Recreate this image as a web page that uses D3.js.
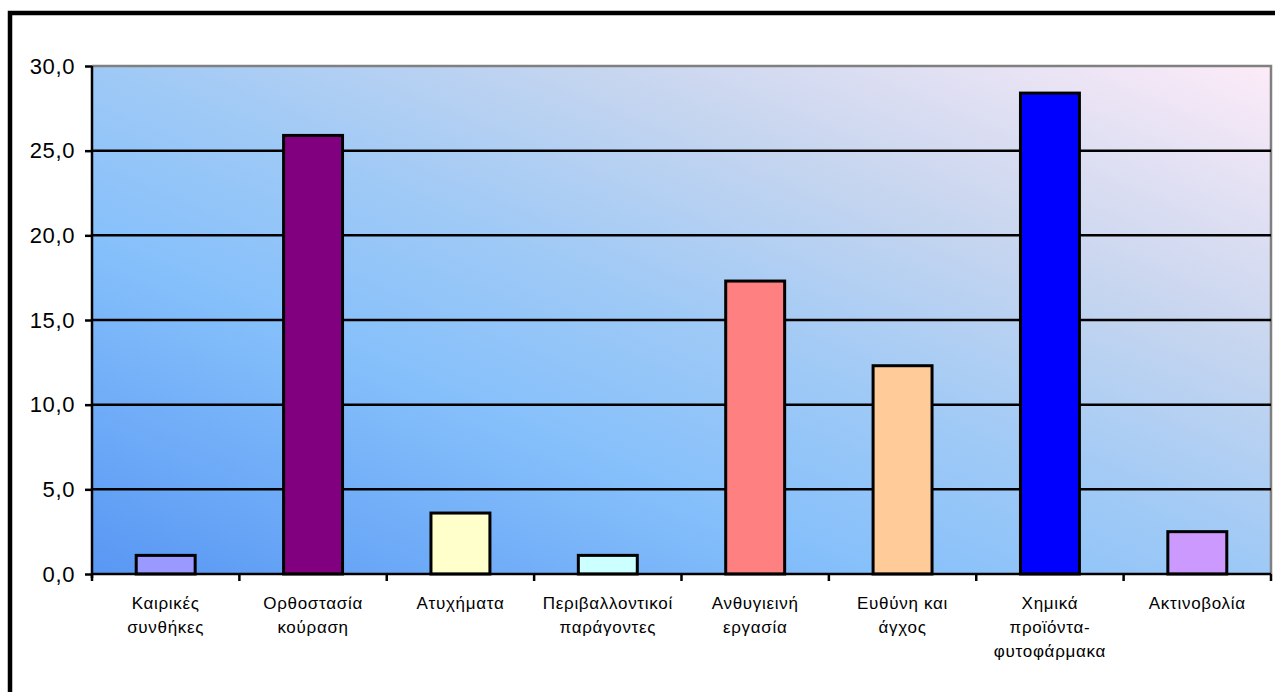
<!DOCTYPE html>
<html>
<head>
<meta charset="utf-8">
<script src="https://cdn.jsdelivr.net/npm/d3@7/dist/d3.min.js"></script>
<style>
  html, body { margin: 0; padding: 0; background: #ffffff; }
  svg { display: block; }
  text { font-family: "Liberation Sans", Arial, sans-serif; fill: #000; }
</style>
</head>
<body>
<svg id="chart" width="1275" height="692"></svg>
<script>
// Category labels, one entry per wrapped line
const categoryLines = [
  ["Καιρικές", "συνθήκες"],
  ["Ορθοστασία", "κούραση"],
  ["Ατυχήματα"],
  ["Περιβαλλοντικοί", "παράγοντες"],
  ["Ανθυγιεινή", "εργασία"],
  ["Ευθύνη και", "άγχος"],
  ["Χημικά", "προϊόντα-", "φυτοφάρμακα"],
  ["Ακτινοβολία"]
];
const categories = categoryLines.map(l => l.join(" "));

// Percentage values per category
const values = [1.1, 25.9, 3.6, 1.1, 17.3, 12.3, 28.4, 2.5];

// Bar fill colours
const barColors = ["#9999FF", "#800080", "#FFFFCC", "#CCFFFF", "#FF8080", "#FFCC99", "#0000FF", "#CC99FF"];

// Value axis ticks
const yTicks = [0, 5, 10, 15, 20, 25, 30];

const svg = d3.select("#chart");
const plot = { left: 92, right: 1271, top: 66, bottom: 574 };

// Outer chart frame (runs past the right and bottom edges)
svg.append("rect")
  .attr("x", 10).attr("y", 13)
  .attr("width", 1400).attr("height", 800)
  .attr("fill", "#fff").attr("stroke", "#000").attr("stroke-width", 4.5);

// Diagonal plot-area gradient
const defs = svg.append("defs");
const grad = defs.append("linearGradient")
  .attr("id", "plotBg")
  .attr("x1", 0).attr("y1", 1).attr("x2", 1).attr("y2", 0);
[
  [0, "#5897f4"],
  [0.33, "#86c0fb"],
  [0.5, "#9ec9f6"],
  [0.72, "#c8d6ef"],
  [1, "#fdebf8"]
].forEach(([o, c]) => grad.append("stop").attr("offset", o).attr("stop-color", c));

const x = d3.scaleBand()
  .domain(categories)
  .range([plot.left, plot.right])
  .paddingInner(0.6)
  .paddingOuter(0.3);

const y = d3.scaleLinear()
  .domain([0, 30])
  .range([plot.bottom, plot.top]);

// Plot background
svg.append("rect")
  .attr("x", plot.left).attr("y", plot.top)
  .attr("width", plot.right - plot.left)
  .attr("height", plot.bottom - plot.top)
  .attr("fill", "url(#plotBg)");

// Top and right plot edges in grey
svg.append("path")
  .attr("d", `M${plot.left},${y(30)}H${plot.right}V${plot.bottom}`)
  .attr("fill", "none").attr("stroke", "#808080").attr("stroke-width", 2.5);

// Horizontal gridlines
svg.append("g")
  .selectAll("line")
  .data(yTicks.filter(t => t > 0 && t < 30))
  .join("line")
  .attr("x1", plot.left).attr("x2", plot.right)
  .attr("y1", d => y(d)).attr("y2", d => y(d))
  .attr("stroke", "#000").attr("stroke-width", 2.5);

// Bars
svg.append("g")
  .selectAll("rect")
  .data(values)
  .join("rect")
  .attr("x", (d, i) => x(categories[i]))
  .attr("width", x.bandwidth())
  .attr("y", d => y(d))
  .attr("height", d => y(0) - y(d))
  .attr("fill", (d, i) => barColors[i])
  .attr("stroke", "#000")
  .attr("stroke-width", 3);

// Value axis
const yAxis = d3.axisLeft(y)
  .tickValues(yTicks)
  .tickSize(7)
  .tickPadding(10)
  .tickFormat(d => d3.format(".1f")(d).replace(".", ","));
const gy = svg.append("g")
  .attr("transform", `translate(${plot.left},0)`)
  .call(yAxis);
gy.select(".domain").attr("stroke", "#000").attr("stroke-width", 2.5)
  .attr("d", `M0,${y(30)}V${plot.bottom + 4}`);
gy.selectAll(".tick line").attr("stroke", "#000").attr("stroke-width", 2.5);
gy.selectAll(".tick text")
  .attr("font-size", 22)
  .attr("letter-spacing", 0.6)
  .style("font-family", '"Liberation Sans", Arial, sans-serif');

// Category axis baseline
svg.append("line")
  .attr("x1", plot.left).attr("x2", plot.right)
  .attr("y1", y(0)).attr("y2", y(0))
  .attr("stroke", "#000").attr("stroke-width", 2.5);

// Category boundary ticks
const step = x.step();
const boundaries = d3.range(categories.length + 1)
  .map(i => x(categories[0]) - step * x.paddingInner() / 2 + i * step);
svg.append("g")
  .selectAll("line")
  .data(boundaries)
  .join("line")
  .attr("x1", d => d).attr("x2", d => d)
  .attr("y1", y(0)).attr("y2", y(0) + 7)
  .attr("stroke", "#000").attr("stroke-width", 2.5);

// Category labels
const labels = svg.append("g")
  .selectAll("text")
  .data(categoryLines)
  .join("text")
  .attr("text-anchor", "middle")
  .attr("font-size", 17)
  .attr("letter-spacing", 0.7)
  .attr("transform", (d, i) => `translate(${x(categories[i]) + x.bandwidth() / 2},${y(0) + 35})`);
labels.selectAll("tspan")
  .data(d => d)
  .join("tspan")
  .attr("x", 0)
  .attr("y", (d, i) => i * 24)
  .text(d => d);
</script>
</body>
</html>
